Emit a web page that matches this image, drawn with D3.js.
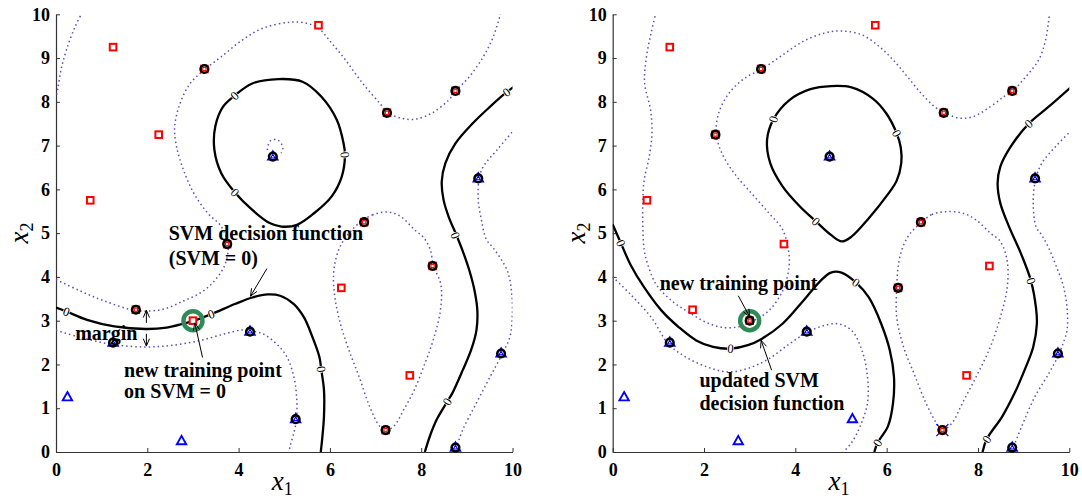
<!DOCTYPE html>
<html>
<head>
<meta charset="utf-8">
<script src="https://cdn.jsdelivr.net/npm/d3@7"></script>
<style>
  body { margin: 0; background: #fff; }
  svg text { font-family: "Liberation Serif", "Times New Roman", serif; }
</style>
</head>
<body>
<div id="chart"></div>
<script>
// ---- data (data units) ----
const xTicks = [0, 2, 4, 6, 8, 10];
const yTicks = [0, 1, 2, 3, 4, 5, 6, 7, 8, 9, 10];

const redPts = [[1.25, 9.25], [5.75, 9.75], [2.25, 7.25], [0.75, 5.75], [3.75, 4.75], [1.75, 3.25],
  [6.25, 3.75], [8.25, 4.25], [7.75, 1.75], [3.25, 8.75], [7.25, 7.75], [8.75, 8.25], [6.75, 5.25], [7.22, 0.5]];
const bluePts = [[0.25, 1.25], [2.75, 0.25], [5.25, 0.75], [1.25, 2.5], [4.25, 2.75], [9.75, 2.25],
  [8.75, 0.1], [4.75, 6.75], [9.25, 6.25]];
const newPt = [3, 3];

const leftRedSV = [[3.25, 8.75], [7.25, 7.75], [8.75, 8.25], [6.75, 5.25], [3.75, 4.75], [8.25, 4.25], [1.75, 3.25], [7.22, 0.5]];
const leftBlueSV = [[4.75, 6.75], [9.25, 6.25], [1.25, 2.5], [4.25, 2.75], [5.25, 0.75], [8.75, 0.1], [9.75, 2.25]];
const rightRedSV = [[3.25, 8.75], [7.25, 7.75], [8.75, 8.25], [2.25, 7.25], [6.75, 5.25], [6.25, 3.75], [7.22, 0.5], [3, 3]];
const rightBlueSV = [[4.75, 6.75], [9.25, 6.25], [1.25, 2.5], [4.25, 2.75], [8.75, 0.1], [9.75, 2.25]];
const rightCross = [[7.22, 0.5]];

// left panel: SVM = 0 contours
const leftSolidLoop = [[4.87, 8.52], [5.40, 8.46], [5.81, 8.12], [6.15, 7.59], [6.30, 7.05], [6.33, 6.79], [6.26, 6.29],
  [6.04, 5.84], [5.66, 5.46], [5.28, 5.19], [4.94, 5.15], [4.68, 5.23], [4.30, 5.53], [3.92, 5.93], [3.62, 6.37],
  [3.47, 6.90], [3.49, 7.44], [3.66, 7.89], [3.91, 8.14], [4.30, 8.42]];
const leftSolidLower = [[0, 3.30], [0.23, 3.21], [0.68, 3.02], [1.28, 2.87], [1.96, 2.81], [2.42, 2.84], [2.79, 2.93],
  [3.02, 3.0], [3.40, 3.15], [3.92, 3.38], [4.30, 3.53], [4.64, 3.60], [4.91, 3.57], [5.21, 3.38], [5.43, 3.08],
  [5.62, 2.62], [5.77, 2.17], [5.81, 1.89], [5.87, 1.42], [5.87, 0.81], [5.83, 0.29], [5.80, 0]];
const leftSolidRight = [[10.04, 8.35], [9.87, 8.22], [9.51, 7.89], [9.13, 7.51], [8.75, 7.05], [8.53, 6.60], [8.45, 6.18],
  [8.49, 5.76], [8.60, 5.38], [8.77, 4.96], [8.91, 4.59], [9.06, 4.13], [9.17, 3.68], [9.23, 3.23], [9.21, 2.78],
  [9.09, 2.32], [8.91, 1.87], [8.68, 1.34], [8.57, 1.15], [8.34, 0.74], [8.19, 0.36], [8.08, 0]];
// left panel: margins (SVM = +-1)
const leftDotTopLeft = [[0.58, 10.05], [0.42, 9.72], [0.23, 9.19], [0.11, 8.73], [0.04, 8.31], [0, 8.1]];
const leftDotUpper = [[0, 3.94], [0.53, 3.68], [1.06, 3.45], [1.77, 3.23], [2.34, 3.26], [2.79, 3.45], [3.17, 3.64],
  [3.47, 3.91], [3.70, 4.28], [3.77, 4.72], [3.62, 5.15], [3.32, 5.46], [3.02, 5.91], [2.79, 6.45], [2.64, 6.98],
  [2.60, 7.44], [2.72, 7.97], [2.94, 8.42], [3.27, 8.75], [3.62, 9.03], [4.08, 9.41], [4.53, 9.68], [5.13, 9.82],
  [5.51, 9.79], [5.75, 9.68], [6.04, 9.34], [6.34, 8.96], [6.72, 8.42], [7.09, 7.97], [7.28, 7.75], [7.55, 7.63],
  [7.85, 7.60], [8.23, 7.74], [8.60, 8.04], [8.77, 8.26], [9.06, 8.58], [9.36, 9.03], [9.58, 9.49], [9.75, 10.05]];
const leftDotTiny = [[4.63, 6.90], [4.65, 7.02], [4.71, 7.12], [4.85, 7.13], [4.94, 7.04], [4.97, 6.92], [4.93, 6.83]];
const leftDotLower = [[0, 2.78], [0.53, 2.62], [1.22, 2.46], [1.96, 2.40], [2.57, 2.44], [3.17, 2.55], [3.70, 2.70],
  [4.08, 2.79], [4.27, 2.77], [4.53, 2.70], [4.83, 2.47], [5.06, 2.17], [5.21, 1.72], [5.27, 1.27], [5.27, 0.76],
  [5.21, 0.44], [5.13, 0.14], [5.10, 0]];
const leftDotMiddle = [[7.28, 5.48], [6.94, 5.42], [6.64, 5.23], [6.42, 5.0], [6.25, 4.75], [6.14, 4.45], [6.08, 4.06],
  [6.11, 3.53], [6.23, 2.93], [6.42, 2.32], [6.64, 1.72], [6.87, 1.04], [7.09, 0.59], [7.22, 0.5], [7.40, 0.59],
  [7.62, 0.97], [7.85, 1.42], [8.08, 2.02], [8.26, 2.55], [8.42, 3.23], [8.43, 3.83], [8.27, 4.25], [8.20, 4.62],
  [8.05, 4.90], [7.85, 5.08], [7.55, 5.38]];
const leftDotRight = [[10.05, 7.38], [9.66, 6.90], [9.36, 6.52], [9.27, 6.26], [9.25, 5.76], [9.32, 5.30], [9.43, 4.85],
  [9.58, 4.66], [9.89, 4.13], [9.99, 3.53], [9.99, 3.0], [9.94, 2.62], [9.77, 2.23], [9.51, 1.72], [9.21, 1.12],
  [8.91, 0.51], [8.77, 0.1], [8.72, 0]];
const leftLabels = [[0.23, 3.21], [3.40, 3.15], [5.81, 1.89], [3.91, 8.14], [3.92, 5.93], [6.33, 6.79], [9.87, 8.22],
  [8.75, 4.95], [8.57, 1.15]];

// right panel: updated SVM = 0 contours
const rightSolidLoop = [[4.78, 8.36], [5.23, 8.33], [5.69, 8.08], [5.99, 7.74], [6.22, 7.28], [6.31, 6.95], [6.32, 6.6],
  [6.22, 6.2], [6.0, 5.85], [5.6, 5.33], [5.23, 4.92], [5.02, 4.81], [4.78, 4.96], [4.45, 5.27], [4.10, 5.61],
  [3.72, 6.07], [3.45, 6.60], [3.38, 7.13], [3.52, 7.60], [3.87, 8.04], [4.33, 8.29]];
const rightSolidLower = [[0, 5.2], [0.18, 4.77], [0.39, 4.28], [0.69, 3.76], [1.07, 3.23], [1.45, 2.85], [1.83, 2.55],
  [2.20, 2.40], [2.58, 2.36], [2.96, 2.44], [3.27, 2.59], [3.72, 2.93], [4.17, 3.45], [4.55, 3.91], [4.78, 4.10],
  [5.01, 4.10], [5.33, 3.87], [5.61, 3.53], [5.88, 2.93], [6.07, 2.32], [6.16, 1.72], [6.14, 1.12], [6.03, 0.59],
  [5.80, 0.21], [5.73, 0]];
const rightSolidRight = [[10.05, 8.35], [9.55, 7.89], [9.11, 7.50], [8.72, 6.98], [8.49, 6.52], [8.43, 6.14], [8.49, 5.68],
  [8.68, 5.15], [8.95, 4.51], [9.16, 3.91], [9.27, 3.30], [9.29, 2.93], [9.21, 2.40], [9.02, 1.87], [8.80, 1.34],
  [8.53, 0.81], [8.19, 0.29], [8.10, 0]];
// right panel: margins
const rightDotUpper = [[0.95, 10.05], [0.84, 9.57], [0.73, 8.96], [0.70, 8.42], [0.83, 7.81], [0.86, 7.28], [0.80, 6.75],
  [0.69, 6.22], [0.66, 5.76], [0.66, 5.15], [0.69, 4.62], [0.77, 4.28], [0.95, 3.83], [1.30, 3.45], [1.67, 3.19],
  [2.05, 2.96], [2.45, 2.84], [2.8, 2.87], [3.05, 2.98], [3.42, 3.23], [3.72, 3.68], [3.86, 4.21], [3.85, 4.6],
  [3.72, 5.08], [3.42, 5.46], [3.04, 5.91], [2.66, 6.37], [2.39, 6.83], [2.27, 7.26], [2.32, 7.74], [2.55, 8.20],
  [2.89, 8.54], [3.27, 8.75], [3.72, 9.07], [4.17, 9.38], [4.63, 9.57], [5.01, 9.62], [5.46, 9.53], [5.84, 9.26],
  [6.14, 8.96], [6.45, 8.58], [6.75, 8.20], [7.05, 7.89], [7.27, 7.75], [7.58, 7.63], [7.89, 7.66], [8.27, 7.89],
  [8.57, 8.12], [8.77, 8.26], [9.02, 8.54], [9.33, 8.96], [9.48, 9.41], [9.57, 10.05]];
const rightDotLower = [[0, 4.0], [0.39, 3.60], [0.84, 3.08], [1.22, 2.47], [1.60, 2.17], [2.05, 1.95], [2.51, 1.83],
  [2.96, 1.91], [3.42, 2.13], [3.87, 2.47], [4.27, 2.74], [4.63, 2.89], [4.93, 2.93], [5.23, 2.78], [5.46, 2.32],
  [5.58, 1.72], [5.58, 1.12], [5.42, 0.59], [5.23, 0.21], [5.05, 0]];
const rightDotMiddle = [[7.28, 5.49], [6.98, 5.42], [6.77, 5.25], [6.52, 5.0], [6.36, 4.7], [6.26, 4.3], [6.22, 3.73],
  [6.22, 3.08], [6.37, 2.40], [6.60, 1.79], [6.86, 1.12], [7.09, 0.66], [7.22, 0.5], [7.43, 0.66], [7.66, 1.12],
  [7.96, 1.72], [8.27, 2.40], [8.49, 3.08], [8.64, 3.76], [8.64, 4.36], [8.49, 4.81], [8.27, 5.0], [7.96, 5.30],
  [7.66, 5.46]];
const rightDotRight = [[10.05, 7.35], [9.70, 6.98], [9.40, 6.60], [9.27, 6.26], [9.21, 5.76], [9.27, 5.15], [9.40, 4.95],
  [9.55, 4.66], [9.70, 4.28], [9.86, 3.83], [9.95, 3.30], [9.95, 2.78], [9.86, 2.47], [9.77, 2.23], [9.55, 1.79],
  [9.25, 1.27], [9.02, 0.74], [8.87, 0.36], [8.77, 0.1], [8.72, 0]];
const rightLabels = [[0.18, 4.77], [2.58, 2.36], [5.33, 3.87], [5.80, 0.21], [3.52, 7.60], [6.22, 7.28], [4.45, 5.27],
  [9.11, 7.50], [9.16, 3.91], [8.19, 0.29]];

// annotations: [text, x, y] (baseline start, data units)
const leftNotes = [["SVM decision function", 2.47, 4.84], ["(SVM = 0)", 2.47, 4.28], ["margin", 0.42, 2.56],
  ["new training point", 1.49, 1.72], ["on SVM = 0", 1.49, 1.23]];
const rightNotes = [["new training point", 1.03, 3.70], ["updated SVM", 1.90, 1.48], ["decision function", 1.90, 0.97]];
// arrows: [x1, y1, x2, y2]
const leftArrows = [[4.62, 4.19, 4.26, 3.56], [3.21, 2.16, 3.04, 2.95], [1.98, 2.95, 1.98, 3.24], [1.98, 2.7, 1.98, 2.42]];
const rightArrows = [[2.75, 3.57, 3.0, 3.09], [3.48, 1.87, 3.25, 2.55]];

// ---- drawing ----
const width = 1082, height = 502;
const yBottom = 452, yTop = 14.3;
const dotColor = '#5d4fbb';

const svg = d3.select('#chart').append('svg')
  .attr('width', width)
  .attr('height', height);
const defs = svg.append('defs');

function drawPanel(p) {
  const x = d3.scaleLinear().domain([0, 10]).range([p.left, p.right]);
  const y = d3.scaleLinear().domain([0, 10]).range([yBottom, yTop]);
  const g = svg.append('g');

  defs.append('clipPath').attr('id', 'clip-' + p.id)
    .append('rect')
    .attr('x', p.left).attr('y', yTop)
    .attr('width', p.right - p.left).attr('height', yBottom - yTop);

  // axes, inward ticks like matlab
  const ax = g.append('g')
    .attr('transform', 'translate(0,' + yBottom + ')')
    .call(d3.axisBottom(x).tickValues(xTicks).tickSizeInner(-4).tickSizeOuter(0).tickPadding(11));
  const ay = g.append('g')
    .attr('transform', 'translate(' + p.left + ',0)')
    .call(d3.axisLeft(y).tickValues(yTicks).tickSizeInner(-4).tickSizeOuter(0).tickPadding(6));
  [ax, ay].forEach(a => {
    a.select('.domain').attr('stroke', '#333').attr('stroke-width', 1.2);
    a.selectAll('.tick line').attr('stroke', '#333');
    a.selectAll('.tick text')
      .attr('fill', '#000')
      .style('font-size', '18px')
      .style('font-weight', 'bold')
      .style('font-family', '"Liberation Serif", serif');
  });

  // axis titles
  const xt = g.append('text')
    .attr('x', (p.left + p.right) / 2 - 2).attr('y', 490)
    .attr('text-anchor', 'middle')
    .style('font-size', '27px');
  xt.append('tspan').style('font-style', 'italic').text('x');
  xt.append('tspan').attr('dy', 5).style('font-size', '18px').text('1');

  const yt = g.append('text')
    .attr('transform', 'translate(' + (p.left - 28) + ',233) rotate(-90)')
    .attr('text-anchor', 'middle')
    .style('font-size', '27px');
  yt.append('tspan').style('font-style', 'italic').text('x');
  yt.append('tspan').attr('dy', 5).style('font-size', '18px').text('2');

  // contour lines
  const curves = g.append('g').attr('clip-path', 'url(#clip-' + p.id + ')');
  const line = d3.line().x(d => x(d[0])).y(d => y(d[1])).curve(d3.curveCatmullRom.alpha(0.5));
  const loop = d3.line().x(d => x(d[0])).y(d => y(d[1])).curve(d3.curveCatmullRomClosed.alpha(0.5));

  p.dotted.forEach(c => curves.append('path')
    .attr('d', line(c)).attr('fill', 'none')
    .attr('stroke', dotColor).attr('stroke-width', 1.5).attr('stroke-dasharray', '1.5 3'));
  p.dottedLoops.forEach(c => curves.append('path')
    .attr('d', loop(c)).attr('fill', 'none')
    .attr('stroke', dotColor).attr('stroke-width', 1.5).attr('stroke-dasharray', '1.5 3'));
  p.solid.forEach(c => curves.append('path')
    .attr('d', line(c)).attr('fill', 'none')
    .attr('stroke', '#000').attr('stroke-width', 2.3));
  p.solidLoops.forEach(c => curves.append('path')
    .attr('d', loop(c)).attr('fill', 'none')
    .attr('stroke', '#000').attr('stroke-width', 2.3));

  // contour labels "0", turned along the nearest solid segment
  const segs = [];
  p.solid.forEach(c => { for (let i = 1; i < c.length; i++) segs.push([c[i - 1], c[i]]); });
  p.solidLoops.forEach(c => { for (let i = 0; i < c.length; i++) segs.push([c[i], c[(i + 1) % c.length]]); });
  p.labels.forEach(l => {
    const px = x(l[0]), py = y(l[1]);
    let best = Infinity, ang = 0;
    segs.forEach(s => {
      const ax1 = x(s[0][0]), ay1 = y(s[0][1]), ax2 = x(s[1][0]), ay2 = y(s[1][1]);
      const dx = ax2 - ax1, dy = ay2 - ay1;
      const t = Math.max(0, Math.min(1, ((px - ax1) * dx + (py - ay1) * dy) / (dx * dx + dy * dy)));
      const d = Math.hypot(px - (ax1 + t * dx), py - (ay1 + t * dy));
      if (d < best) { best = d; ang = Math.atan2(dy, dx) * 180 / Math.PI; }
    });
    if (ang > 90) ang -= 180;
    if (ang < -90) ang += 180;
    const lg = g.append('g').attr('transform', 'translate(' + px + ',' + py + ') rotate(' + ang + ')');
    lg.append('ellipse').attr('rx', 3.4).attr('ry', 5.2).attr('fill', '#fff');
    lg.append('text').attr('text-anchor', 'middle').attr('dy', '0.34em')
      .style('font-size', '12.5px').text('0');
  });

  // new training point highlight
  g.append('circle')
    .attr('cx', x(newPt[0])).attr('cy', y(newPt[1])).attr('r', 9.5)
    .attr('fill', 'none').attr('stroke', '#2e8b57').attr('stroke-width', 4.5);

  // points
  const tri = (s) => 'M0,' + (-s) + 'L' + (s * 0.9) + ',' + (s * 0.6) + 'L' + (-s * 0.9) + ',' + (s * 0.6) + 'Z';
  const pts = g.append('g');
  (p.cross || []).forEach(d => pts.append('path')
    .attr('transform', 'translate(' + x(d[0]) + ',' + y(d[1]) + ')')
    .attr('d', 'M-6,-6L6,6M-6,6L6,-6').attr('stroke', '#0000ee').attr('stroke-width', 1.3));
  redPts.concat([newPt]).forEach(d => pts.append('rect')
    .attr('x', x(d[0]) - 3.3).attr('y', y(d[1]) - 3.3).attr('width', 6.6).attr('height', 6.6)
    .attr('fill', '#fff').attr('stroke', '#ff0000').attr('stroke-width', 2));
  bluePts.forEach(d => pts.append('path')
    .attr('transform', 'translate(' + x(d[0]) + ',' + y(d[1]) + ')')
    .attr('d', tri(5.2)).attr('fill', '#fff').attr('stroke', '#0000ff').attr('stroke-width', 1.9));
  p.redSV.concat(p.blueSV).forEach(d => pts.append('circle')
    .attr('cx', x(d[0])).attr('cy', y(d[1])).attr('r', 3.8)
    .attr('fill', '#fff').attr('stroke', '#000').attr('stroke-width', 2.6));
  p.redSV.forEach(d => pts.append('rect')
    .attr('x', x(d[0]) - 1.6).attr('y', y(d[1]) - 1.6).attr('width', 3.2).attr('height', 3.2)
    .attr('fill', '#fff').attr('stroke', '#ff0000').attr('stroke-width', 1.1));
  p.blueSV.forEach(d => pts.append('path')
    .attr('transform', 'translate(' + x(d[0]) + ',' + y(d[1]) + ')')
    .attr('d', tri(2.3)).attr('fill', '#fff').attr('stroke', '#0000ff').attr('stroke-width', 1.1));

  // annotation texts
  p.notes.forEach(n => g.append('text')
    .attr('x', x(n[1])).attr('y', y(n[2]))
    .style('font-size', '20px').style('font-weight', 'bold')
    .text(n[0]));

  // arrows with open heads
  p.arrows.forEach(a => {
    const x1 = x(a[0]), y1 = y(a[1]), x2 = x(a[2]), y2 = y(a[3]);
    g.append('line').attr('x1', x1).attr('y1', y1).attr('x2', x2).attr('y2', y2)
      .attr('stroke', '#000').attr('stroke-width', 1);
    const th = Math.atan2(y2 - y1, x2 - x1);
    const hl = 8, spread = 0.4;
    const head = 'M' + (x2 - hl * Math.cos(th - spread)) + ',' + (y2 - hl * Math.sin(th - spread)) +
      'L' + x2 + ',' + y2 +
      'L' + (x2 - hl * Math.cos(th + spread)) + ',' + (y2 - hl * Math.sin(th + spread));
    g.append('path').attr('d', head).attr('fill', 'none').attr('stroke', '#000').attr('stroke-width', 1);
  });
}

drawPanel({
  id: 'left', left: 56, right: 512.5,
  solid: [leftSolidLower, leftSolidRight], solidLoops: [leftSolidLoop],
  dotted: [leftDotTopLeft, leftDotUpper, leftDotTiny, leftDotLower, leftDotRight], dottedLoops: [leftDotMiddle],
  labels: leftLabels, redSV: leftRedSV, blueSV: leftBlueSV,
  notes: leftNotes, arrows: leftArrows
});
drawPanel({
  id: 'right', left: 612.7, right: 1069.3,
  solid: [rightSolidLower, rightSolidRight], solidLoops: [rightSolidLoop],
  dotted: [rightDotUpper, rightDotLower, rightDotRight], dottedLoops: [rightDotMiddle],
  labels: rightLabels, redSV: rightRedSV, blueSV: rightBlueSV, cross: rightCross,
  notes: rightNotes, arrows: rightArrows
});
</script>
</body>
</html>
